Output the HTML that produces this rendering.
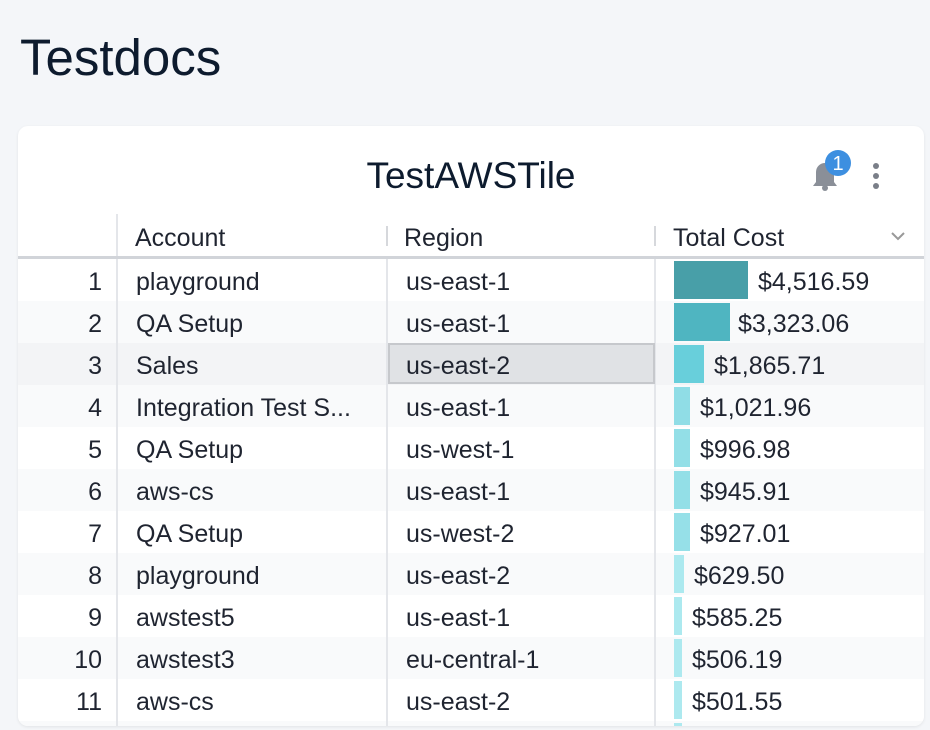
<!DOCTYPE html>
<html><head><style>
*{margin:0;padding:0;box-sizing:border-box}
body{width:930px;height:730px;background:#f4f6f9;font-family:"Liberation Sans",sans-serif;color:#1f2430;position:relative;overflow:hidden}
.abs{position:absolute}
h1{position:absolute;left:20px;top:28px;font-size:51px;font-weight:400;color:#0d1b2e;line-height:60px}
.card{position:absolute;left:18px;top:126px;width:906px;height:600px;background:#fff;border-radius:10px;box-shadow:0 1px 3px rgba(0,0,0,.08);overflow:hidden}
.t{position:absolute;font-size:25px;white-space:nowrap;line-height:42px;padding-top:2px}
.n{position:absolute;font-size:25px;line-height:42px;left:40px;width:44px;text-align:right;padding-top:2px}
.row{position:absolute;left:0;width:906px;height:42px}
.vl{position:absolute;width:2px;background:#e4e6ea}
.bar{position:absolute;height:38px;left:656px}
</style></head><body>
<h1>Testdocs</h1>
<div class="card">
<div class="abs" style="left:0;width:906px;top:28px;text-align:center;font-size:37px;color:#0d1b2e;line-height:44px">TestAWSTile</div>
<svg class="abs" style="left:790px;top:20px" width="44" height="46" viewBox="0 0 44 46">
<path d="M5 40 h24 l-3-4 v-10 a9 9 0 0 0-18 0 v10 z" fill="#8a8f98"/><circle cx="17" cy="42" r="3" fill="#8a8f98"/>
<circle cx="30" cy="17" r="13" fill="#3d8fe0"/><text x="30" y="24" text-anchor="middle" font-size="20" fill="#fff" font-family="Liberation Sans">1</text></svg>
<div class="abs" style="left:855px;top:37px;width:6px;height:6px;border-radius:50%;background:#7a7f88"></div>
<div class="abs" style="left:855px;top:47px;width:6px;height:6px;border-radius:50%;background:#7a7f88"></div>
<div class="abs" style="left:855px;top:57px;width:6px;height:6px;border-radius:50%;background:#7a7f88"></div>

<div class="t" style="left:117px;top:89px">Account</div>
<div class="t" style="left:386px;top:89px">Region</div>
<div class="t" style="left:655px;top:89px">Total Cost</div>
<svg class="abs" style="left:872px;top:104px" width="16" height="12"><path d="M2 3 l6 6 l6-6" stroke="#999" stroke-width="2" fill="none"/></svg>
<div class="vl" style="left:368px;top:100px;height:20px;background:#d6d8dc"></div>
<div class="vl" style="left:636px;top:100px;height:20px;background:#d6d8dc"></div>

<div class="row" style="top:133px;background:#fff"></div>
<div class="row" style="top:175px;background:#f9fafb"></div>
<div class="row" style="top:217px;background:#f3f4f6"></div>
<div class="row" style="top:259px;background:#f9fafb"></div>
<div class="row" style="top:301px;background:#fff"></div>
<div class="row" style="top:343px;background:#f9fafb"></div>
<div class="row" style="top:385px;background:#fff"></div>
<div class="row" style="top:427px;background:#f9fafb"></div>
<div class="row" style="top:469px;background:#fff"></div>
<div class="row" style="top:511px;background:#f9fafb"></div>
<div class="row" style="top:553px;background:#fff"></div>
<div class="row" style="top:595px;background:#f9fafb"></div>

<div class="vl" style="left:98px;top:88px;height:512px"></div>
<div class="vl" style="left:368px;top:133px;height:467px"></div>
<div class="vl" style="left:636px;top:133px;height:467px"></div>
<div class="abs" style="left:0;top:130px;width:906px;height:3px;background:#d1d4d9"></div>
<div class="abs" style="left:370px;top:217px;width:267px;height:41px;background:#e0e2e5;border:2px solid #c6c8cc"></div>

<div class="n" style="top:133px">1</div><div class="t" style="left:118px;top:133px">playground</div><div class="t" style="left:388px;top:133px">us-east-1</div><div class="bar" style="top:135px;width:74px;background:#489fa8"></div><div class="t" style="left:740px;top:133px">$4,516.59</div>
<div class="n" style="top:175px">2</div><div class="t" style="left:118px;top:175px">QA Setup</div><div class="t" style="left:388px;top:175px">us-east-1</div><div class="bar" style="top:177px;width:56px;background:#4fb5c1"></div><div class="t" style="left:720px;top:175px">$3,323.06</div>
<div class="n" style="top:217px">3</div><div class="t" style="left:118px;top:217px">Sales</div><div class="t" style="left:388px;top:217px">us-east-2</div><div class="bar" style="top:219px;width:30px;background:#68cfdb"></div><div class="t" style="left:696px;top:217px">$1,865.71</div>
<div class="n" style="top:259px">4</div><div class="t" style="left:118px;top:259px">Integration Test S...</div><div class="t" style="left:388px;top:259px">us-east-1</div><div class="bar" style="top:261px;width:16px;background:#90dde6"></div><div class="t" style="left:682px;top:259px">$1,021.96</div>
<div class="n" style="top:301px">5</div><div class="t" style="left:118px;top:301px">QA Setup</div><div class="t" style="left:388px;top:301px">us-west-1</div><div class="bar" style="top:303px;width:16px;background:#93dfe7"></div><div class="t" style="left:682px;top:301px">$996.98</div>
<div class="n" style="top:343px">6</div><div class="t" style="left:118px;top:343px">aws-cs</div><div class="t" style="left:388px;top:343px">us-east-1</div><div class="bar" style="top:345px;width:16px;background:#93dfe7"></div><div class="t" style="left:682px;top:343px">$945.91</div>
<div class="n" style="top:385px">7</div><div class="t" style="left:118px;top:385px">QA Setup</div><div class="t" style="left:388px;top:385px">us-west-2</div><div class="bar" style="top:387px;width:16px;background:#96e0e8"></div><div class="t" style="left:682px;top:385px">$927.01</div>
<div class="n" style="top:427px">8</div><div class="t" style="left:118px;top:427px">playground</div><div class="t" style="left:388px;top:427px">us-east-2</div><div class="bar" style="top:429px;width:10px;background:#ace9ef"></div><div class="t" style="left:676px;top:427px">$629.50</div>
<div class="n" style="top:469px">9</div><div class="t" style="left:118px;top:469px">awstest5</div><div class="t" style="left:388px;top:469px">us-east-1</div><div class="bar" style="top:471px;width:8px;background:#ace9ef"></div><div class="t" style="left:674px;top:469px">$585.25</div>
<div class="n" style="top:511px">10</div><div class="t" style="left:118px;top:511px">awstest3</div><div class="t" style="left:388px;top:511px">eu-central-1</div><div class="bar" style="top:513px;width:8px;background:#ade9ef"></div><div class="t" style="left:674px;top:511px">$506.19</div>
<div class="n" style="top:553px">11</div><div class="t" style="left:118px;top:553px">aws-cs</div><div class="t" style="left:388px;top:553px">us-east-2</div><div class="bar" style="top:555px;width:8px;background:#ade9ef"></div><div class="t" style="left:674px;top:553px">$501.55</div>
<div class="bar" style="top:597px;width:8px;background:#ade9ef"></div>
</div>
</body></html>
